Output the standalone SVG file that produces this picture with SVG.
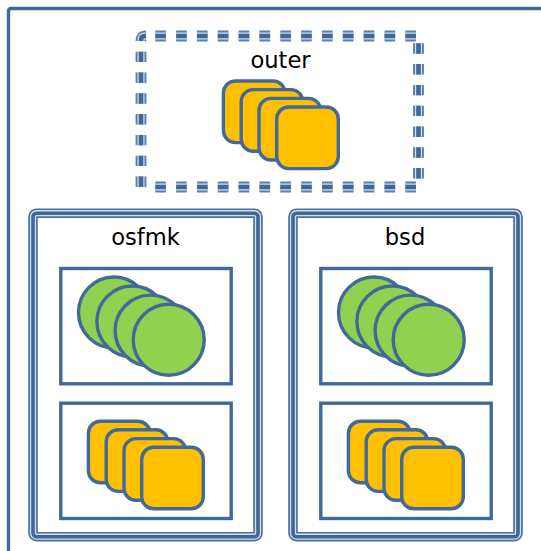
<svg xmlns="http://www.w3.org/2000/svg" width="541" height="551" viewBox="0 0 541 551">
<style>
text{font-family:"DejaVu Sans",sans-serif;font-size:22.6px;fill:#000;text-anchor:middle}
.b{fill:none;stroke:#41699a;stroke-width:3.4}
.box{fill:#fff;stroke:#41699a;stroke-width:3.4}
.sq{fill:#ffc000;stroke:#41699a;stroke-width:3.4}
.ci{fill:#92d050;stroke:#41699a;stroke-width:3.4}
.l1{fill:none;stroke:#4a72a0}
.l2{fill:none;stroke:#d3deea}
.l3{fill:none;stroke:#3f6797}
.d1{fill:none;stroke:#5a7fab}
.d2{fill:none;stroke:#d3deea}
</style>
<defs>
<g id="dash">
<path d="M141 41V40Q141 36 145 36H146" />
<path stroke-dasharray="10.6 10.24" d="M155.3 36H417" />
<path stroke-dasharray="10.6 10.24" d="M155.3 187H417" />
<path stroke-dasharray="10.4 10.4" d="M418.5 43.3V180" />
<path stroke-dasharray="10.4 10.4" d="M141 51.7V189" />
</g>
<rect id="dbl" x="33" y="213.2" width="225" height="323.5" rx="3.5"/>
<g id="squares">
<rect class="sq" x="223.4" y="81" width="61.6" height="61.6" rx="12"/>
<rect class="sq" x="241.2" y="89.6" width="61.6" height="61.6" rx="12"/>
<rect class="sq" x="259" y="98.4" width="61.6" height="61.6" rx="12"/>
<rect class="sq" x="276.7" y="107" width="61.6" height="61.6" rx="12"/>
</g>
<g id="circles">
<circle class="ci" cx="114" cy="312.5" r="35.5"/>
<circle class="ci" cx="132.4" cy="321.5" r="35.5"/>
<circle class="ci" cx="150.6" cy="330.6" r="35.5"/>
<circle class="ci" cx="168.7" cy="339.8" r="35.5"/>
</g>
<g id="panel">
<use href="#dbl" class="l1" stroke-width="9.6"/>
<use href="#dbl" class="l2" stroke-width="6.2"/>
<use href="#dbl" class="l3" stroke-width="3.6"/>
<rect class="box" x="60.8" y="268.5" width="170.4" height="115.3"/>
<rect class="box" x="60.8" y="403.2" width="170.4" height="115.3"/>
<use href="#circles"/>
<use href="#squares" x="-135" y="340.2"/>
</g>
</defs>
<rect width="541" height="551" fill="#fff"/>
<g id="frame">
<path class="b" d="M8.5 551V11Q8.5 8.5 11 8.5H541"/>
</g>
<g id="outer">
<use href="#dash" class="d1" stroke-width="10.8"/>
<use href="#dash" class="d2" stroke-width="7"/>
<use href="#dash" class="l3" stroke-width="4.6"/>
<text x="280.5" y="67.5">outer</text>
<use href="#squares"/>
</g>
<g id="osfmk">
<use href="#panel"/>
<text x="145.5" y="245">osfmk</text>
</g>
<g id="bsd">
<use href="#panel" x="260"/>
<text x="405" y="245">bsd</text>
</g>
</svg>
